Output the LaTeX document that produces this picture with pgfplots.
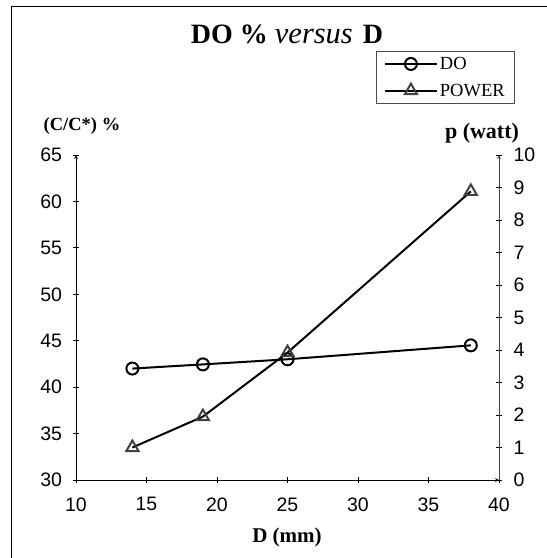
\documentclass[border=0pt]{standalone}
\usepackage{pgfplots}
\pgfplotsset{compat=1.18}
\usepackage{fontspec}
\setmainfont{Liberation Serif}
\newfontfamily\arial{Liberation Sans}
\definecolor{tri}{HTML}{404040}
\begin{document}
\begin{tikzpicture}
\path[use as bounding box] (-76pt,-78pt) rectangle (471pt,480pt);
\draw[line width=1pt] (-64pt,-80pt) -- (-64pt,473pt) -- (475pt,473pt);
\pgfplotsset{
  doStyle/.style={black, line width=2pt, mark=o, mark size=6pt, mark options={fill=white, line width=2pt}},
  pwStyle/.style={black, line width=2pt, mark=triangle, mark size=7pt, mark options={draw=tri, fill=white, line width=2pt}},
  common/.style={
    at={(0pt,0pt)}, anchor=south west,
    scale only axis, width=423pt, height=325pt,
    xmin=10, xmax=40,
    tick align=outside, major tick length=6pt,
    tick style={black, line width=0.8pt},
    axis line style={-, line width=0.8pt},
    ticklabel style={font=\arial\fontsize{19.5}{19.5}\selectfont},
    /pgf/number format/assume math mode=true,
    clip=false,
  },
}
\begin{axis}[common,
  axis x line=bottom, axis y line=left,
  xtick={10,15,...,40},
  xticklabel style={yshift=-11pt},
  ymin=30, ymax=65, ytick={30,35,...,65},
  yticklabel style={xshift=-7.5pt},
]
\addplot[doStyle] coordinates {(14,42) (19,42.45) (25,43.0) (38,44.5)};
\end{axis}
\begin{axis}[common,
  axis x line=none, axis y line=right,
  ymin=0, ymax=10, ytick={0,1,...,10},
  yticklabel style={xshift=8pt},
  y axis line style={draw=black!75},
  legend style={at={(1.038,1.321)}, anchor=north east, draw=black!70, line width=0.8pt,
    font=\fontsize{18.5}{18.5}\selectfont, row sep=9pt, inner xsep=8pt, inner ysep=4pt},
  legend cell align=left,
  legend image code/.code={\draw[mark repeat=2,mark phase=2,#1] plot coordinates {(0pt,0pt) (26pt,0pt) (52pt,0pt)};},
]
\addlegendimage{doStyle}
\addlegendentry{DO}
\addplot[pwStyle] coordinates {(14,1.0) (19,1.95) (25,3.92) (38,8.88)};
\addlegendentry{POWER}
\end{axis}
\node[font=\bfseries\fontsize{28}{28}\selectfont] at (211pt,446pt) {DO\hspace{7pt}\%\hspace{7pt}\textit{\mdseries\fontsize{30.5}{30.5}\selectfont versus}\hspace{10pt}D};
\node[font=\bfseries\fontsize{18.5}{18.5}\selectfont] at (6pt,354pt) {(C/C*) \%};
\node[font=\bfseries\fontsize{22}{22}\selectfont] at (406pt,347pt) {p (watt)};
\node[font=\bfseries\fontsize{21}{21}\selectfont] at (211pt,-57pt) {D (mm)};
\end{tikzpicture}
\end{document}
